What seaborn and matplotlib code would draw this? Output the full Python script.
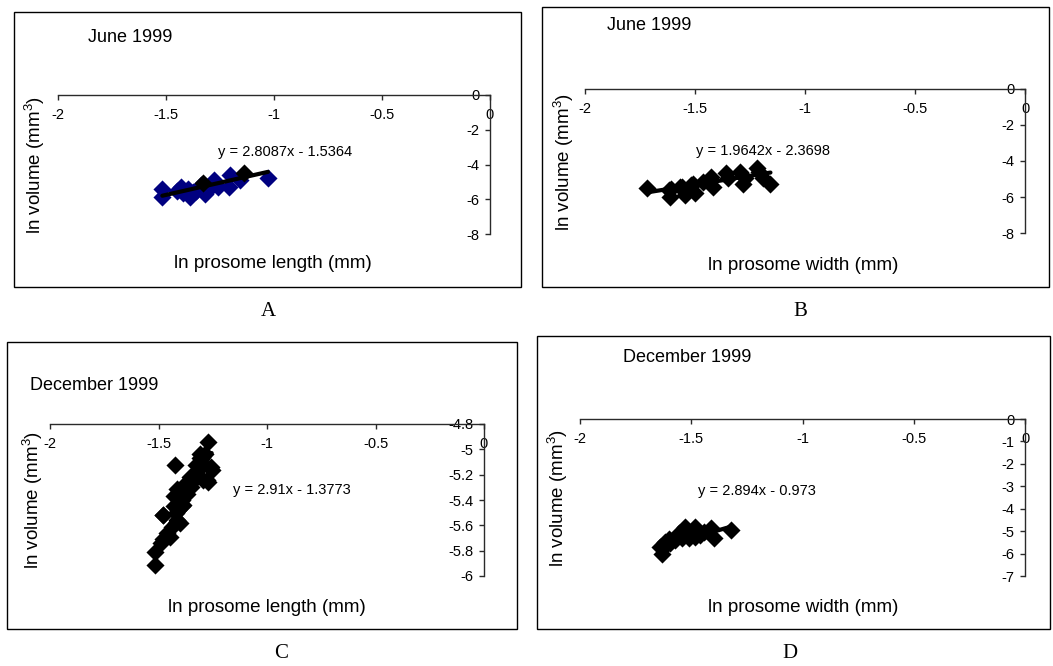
import numpy as np
import pandas as pd
import matplotlib
matplotlib.use("Agg")
import matplotlib.pyplot as plt
import seaborn as sns
from matplotlib.patches import Rectangle

# ---------------- data ----------------
# Panel A: June 1999, ln prosome length vs ln volume
a_x = [-1.517, -1.517, -1.45, -1.43, -1.42, -1.40, -1.39, -1.375, -1.36, -1.34,
       -1.32, -1.305, -1.28, -1.26, -1.21, -1.204, -1.157, -1.028]
a_y = [-5.43, -5.85, -5.50, -5.27, -5.65, -5.40, -5.85, -5.58, -5.55, -5.18,
       -5.70, -5.47, -4.89, -5.29, -5.30, -4.60, -4.89, -4.79]
a_x2 = [-1.33, -1.138]
a_y2 = [-5.08, -4.50]
a_eq = (2.8087, -1.5364)

# Panel B: June 1999, ln prosome width vs ln volume
b_x = [-1.72, -1.62, -1.615, -1.61, -1.57, -1.56, -1.547, -1.518, -1.51, -1.50,
       -1.464, -1.427, -1.418, -1.36, -1.35, -1.297, -1.28, -1.274, -1.22,
       -1.21, -1.19, -1.157]
b_y = [-5.52, -5.61, -5.98, -5.53, -5.42, -5.44, -5.89, -5.33, -5.25, -5.80,
       -5.15, -4.87, -5.42, -4.68, -4.95, -4.59, -5.25, -4.96, -4.40,
       -4.60, -4.96, -5.30]
b_eq = (1.9642, -2.3698)

# Panel C: December 1999, ln prosome length vs ln volume
c_x = [-1.27, -1.424, -1.516, -1.516, -1.478, -1.43, -1.286, -1.255, -1.27,
       -1.309, -1.33, -1.355, -1.378, -1.393, -1.41, -1.416, -1.44, -1.46,
       -1.478, -1.325, -1.355, -1.385, -1.41, -1.385, -1.43, -1.40, -1.447,
       -1.49, -1.316, -1.293, -1.278, -1.26, -1.309, -1.417, -1.48, -1.37,
       -1.35, -1.42, -1.34, -1.39]
c_y = [-4.94, -5.12, -5.81, -5.91, -5.52, -5.37, -5.04, -5.16, -5.26,
       -5.07, -5.19, -5.27, -5.33, -5.40, -5.48, -5.56, -5.61, -5.66,
       -5.71, -5.12, -5.22, -5.29, -5.39, -5.44, -5.45, -5.58, -5.69,
       -5.74, -5.16, -5.24, -5.24, -5.14, -5.04, -5.31, -5.52, -5.35,
       -5.30, -5.50, -5.20, -5.45]
c_eq = (2.91, -1.3773)

# Panel D: December 1999, ln prosome width vs ln volume
d_x = [-1.323, -1.413, -1.399, -1.481, -1.526, -1.541, -1.571, -1.616, -1.624,
       -1.481, -1.511, -1.594, -1.556, -1.444, -1.497, -1.459, -1.631, -1.639,
       -1.53, -1.50, -1.57, -1.60, -1.47, -1.54]
d_y = [-4.95, -4.88, -5.32, -4.81, -4.81, -5.18, -5.40, -5.48, -5.70,
       -5.25, -5.32, -5.55, -5.10, -5.03, -5.03, -5.18, -6.00, -5.70,
       -5.05, -5.10, -5.25, -5.35, -5.10, -5.30]
d_eq = (2.894, -0.973)

x_ticks = [-2, -1.5, -1, -0.5, 0]
x_ticklabels = ["-2", "-1.5", "-1", "-0.5", "0"]
ab_yticks = [0, -2, -4, -6, -8]
c_yticks = [-4.8, -5.0, -5.2, -5.4, -5.6, -5.8, -6.0]
c_yticklabels = ["-4.8", "-5", "-5.2", "-5.4", "-5.6", "-5.8", "-6"]
d_yticks = [0, -1, -2, -3, -4, -5, -6, -7]

titles = ["June 1999", "June 1999", "December 1999", "December 1999"]
xlabels = ["ln prosome length (mm)", "ln prosome width (mm)",
           "ln prosome length (mm)", "ln prosome width (mm)"]
ylabel = "ln volume (mm$^{3}$)"
panel_letters = ["A", "B", "C", "D"]

# ---------------- style ----------------
sns.set_style("white")
plt.rcParams["font.family"] = ["Liberation Sans", "DejaVu Sans"]
plt.rcParams["mathtext.default"] = "regular"
plt.rcParams["text.color"] = "black"
plt.rcParams["axes.labelcolor"] = "black"
plt.rcParams["xtick.color"] = "black"
plt.rcParams["ytick.color"] = "black"

W, H = 1053, 666
fig = plt.figure(figsize=(W / 100, H / 100), dpi=100)
fig.patch.set_facecolor("white")


def fx(px):
    return px / W


def fy(py):
    return 1 - py / H


spine_col = "#2a2a2a"

panels = [
    dict(ax=(58, 95, 490, 234), box=(14, 12, 521, 287), x=a_x, y=a_y, col="#000080",
         eq=a_eq, ylim=(-8, 0), yt=ab_yticks, ytl=[str(v) for v in ab_yticks],
         title=(88, 37), ylab=(35, 165), xlab=(273, 264), eqpos=(218, 152),
         letter=(268, 312)),
    dict(ax=(585, 89, 1025, 233), box=(542, 7, 1049, 287), x=b_x, y=b_y, col="black",
         eq=b_eq, ylim=(-8, 0), yt=ab_yticks, ytl=[str(v) for v in ab_yticks],
         title=(607, 26), ylab=(564, 162), xlab=(803, 265), eqpos=(696, 151),
         letter=(800, 312)),
    dict(ax=(50, 424, 484, 576), box=(7, 342, 517, 629), x=c_x, y=c_y, col="black",
         eq=c_eq, ylim=(-6, -4.8), yt=c_yticks, ytl=c_yticklabels,
         title=(30, 386), ylab=(33, 500), xlab=(267, 607), eqpos=(233, 490),
         letter=(281, 654)),
    dict(ax=(580, 419, 1025, 576), box=(537, 336, 1050, 629), x=d_x, y=d_y, col="black",
         eq=d_eq, ylim=(-7, 0), yt=d_yticks, ytl=[str(v) for v in d_yticks],
         title=(623, 357), ylab=(558, 498), xlab=(803, 607), eqpos=(698, 491),
         letter=(790, 654)),
]

for i, p in enumerate(panels):
    bl, bt, br, bb = p["box"]
    fig.patches.append(Rectangle((fx(bl), fy(bb)), (br - bl) / W, (bb - bt) / H,
                                 transform=fig.transFigure, fill=False,
                                 edgecolor="black", linewidth=1.0))
    l, t, r, b = p["ax"]
    ax = fig.add_axes([fx(l), fy(b), (r - l) / W, (b - t) / H])
    ax.set_facecolor("none")

    df = pd.DataFrame({"x": p["x"], "y": p["y"]})
    sns.scatterplot(data=df, x="x", y="y", ax=ax, marker="D", s=85,
                    color=p["col"], edgecolor=p["col"], linewidth=0, zorder=3)
    if i == 0:
        df2 = pd.DataFrame({"x": a_x2, "y": a_y2})
        sns.scatterplot(data=df2, x="x", y="y", ax=ax, marker="D", s=85,
                        color="black", edgecolor="black", linewidth=0, zorder=5)
    slope, icpt = p["eq"]
    xs = np.array([min(p["x"]), max(p["x"])])
    line_df = pd.DataFrame({"x": xs, "y": slope * xs + icpt})
    sns.lineplot(data=line_df, x="x", y="y", ax=ax, color="black",
                 linewidth=3, zorder=4)

    ax.set_xlim(-2, 0)
    ax.set_ylim(*p["ylim"])
    ax.set_xticks(x_ticks)
    ax.set_xticklabels(x_ticklabels)
    ax.set_yticks(p["yt"])
    ax.set_yticklabels(p["ytl"])
    ax.spines["top"].set_visible(False)
    ax.spines["right"].set_visible(False)
    ax.spines["bottom"].set_position(("axes", 1.0))
    ax.spines["left"].set_position(("axes", 1.0))
    for s in ("bottom", "left"):
        ax.spines[s].set_color(spine_col)
        ax.spines[s].set_linewidth(1.0)
    ax.tick_params(axis="both", which="both", direction="out", length=3.5,
                   width=1.0, color=spine_col, labelsize=10.5,
                   labelcolor="black", bottom=True, left=True)
    ax.tick_params(axis="x", pad=6)
    ax.tick_params(axis="y", pad=4)
    ax.set_xlabel("")
    ax.set_ylabel("")
    ax.grid(False)

    fig.text(fx(p["title"][0]), fy(p["title"][1]), titles[i], fontsize=13,
             ha="left", va="center")
    fig.text(fx(p["ylab"][0]), fy(p["ylab"][1]), ylabel, fontsize=13.5,
             rotation=90, ha="center", va="center")
    fig.text(fx(p["xlab"][0]), fy(p["xlab"][1]), xlabels[i], fontsize=13.5,
             ha="center", va="center")
    fig.text(fx(p["eqpos"][0]), fy(p["eqpos"][1]),
             f"y = {slope:g}x - {abs(icpt):g}", fontsize=10.5,
             ha="left", va="center")
    fig.text(fx(p["letter"][0]), fy(p["letter"][1]), panel_letters[i],
             fontsize=15, family=["Liberation Serif", "DejaVu Serif"],
             ha="center", va="center")

fig.savefig("out.png", dpi=100, facecolor="white")
